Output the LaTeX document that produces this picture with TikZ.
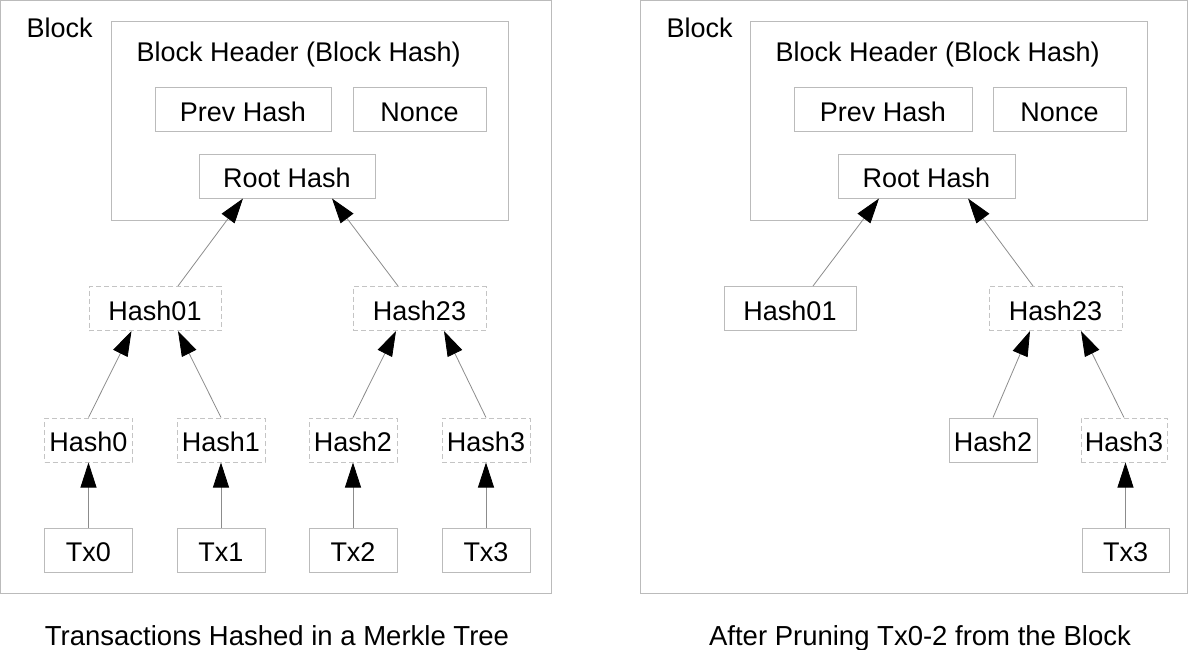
\documentclass[tikz,border=0pt]{standalone}
\usepackage{fontspec}
\setmainfont{Liberation Sans}
\usetikzlibrary{arrows.meta}
\definecolor{framegray}{HTML}{BBBBBB}
\definecolor{dashgray}{HTML}{C4C4C4}
\definecolor{linegray}{HTML}{8C8C8C}

\begin{document}
\begin{tikzpicture}[
    x=1pt, y=-1pt,
    every node/.style={font=\fontsize{27}{32}\selectfont},
    hashbox/.style={rectangle, draw=framegray, line width=1pt, inner sep=0pt, minimum height=44pt, text height=23pt, text depth=0pt},
    ghostbox/.style={hashbox, draw=dashgray, dash pattern=on 5pt off 3pt}, % pruned-able
    blockframe/.style={draw=framegray, line width=1pt},
    captiontext/.style={anchor=base, font=\fontsize{27.5}{32}\selectfont},
    uparrow/.style={draw=linegray, line width=0.8pt, -{Triangle[length=25pt, width=16pt, color=black]}}
]
\useasboundingbox (0,0) rectangle (1188,650);

% left block: full merkle tree
\draw[blockframe] (0.5,0.5) rectangle (551.5,593.5);
\node[anchor=base west] (ablock) at (23,38) {Block};
\draw[blockframe] (111,22) rectangle (508,220);
\node[anchor=base west] (ahead) at (133,62) {Block Header (Block Hash)};
\node[hashbox, minimum width=176pt] (aprev) at (243,110) {Prev Hash};
\node[hashbox, minimum width=133pt] (anonce) at (419.5,110) {Nonce};
\node[hashbox, minimum width=176pt] (aroot) at (287,176) {Root Hash};
\node[ghostbox, minimum width=132pt] (ah01) at (155,308.5) {Hash01};
\node[ghostbox, minimum width=133pt] (ah23) at (419.5,308.5) {Hash23};
\foreach \i/\x in {0/88.5, 1/221, 2/353, 3/486} {
  \node[ghostbox, minimum width=88pt] (ah\i) at (\x,440) {Hash\i};
  \node[hashbox, minimum width=88pt] (atx\i) at (\x,550) {Tx\i};
  \draw[uparrow] (atx\i) -- (ah\i);
}
\draw[uparrow] (ah0.north) -- ([xshift=-23.5pt]ah01.south);
\draw[uparrow] (ah1.north) -- ([xshift=23pt]ah01.south);
\draw[uparrow] (ah2.north) -- ([xshift=-23.5pt]ah23.south);
\draw[uparrow] (ah3.north) -- ([xshift=24.5pt]ah23.south);
\draw[uparrow] ([xshift=23pt]ah01.north) -- ([xshift=-44pt]aroot.south);
\draw[uparrow] ([xshift=-21.5pt]ah23.north) -- ([xshift=45pt]aroot.south);
\node[captiontext] (acap) at (277,645) {Transactions Hashed in a Merkle Tree};

% right block: after pruning
\draw[blockframe] (640.5,0.5) rectangle (1187.5,593.5);
\node[anchor=base west] (bblock) at (663,38) {Block};
\draw[blockframe] (750,22) rectangle (1147,220);
\node[anchor=base west] (bhead) at (772,62) {Block Header (Block Hash)};
\node[hashbox, minimum width=178pt] (bprev) at (883,110) {Prev Hash};
\node[hashbox, minimum width=133pt] (bnonce) at (1059.5,110) {Nonce};
\node[hashbox, minimum width=177pt] (broot) at (926.5,176) {Root Hash};
\node[hashbox, minimum width=132pt] (bh01) at (790,308.5) {Hash01};
\node[ghostbox, minimum width=133pt] (bh23) at (1055.5,308.5) {Hash23};
\node[hashbox, minimum width=88pt] (bh2) at (993,440) {Hash2};
\node[ghostbox, minimum width=86pt] (bh3) at (1124,440) {Hash3};
\node[hashbox, minimum width=87pt] (btx3) at (1125.5,550) {Tx3};
\draw[uparrow] (btx3) -- (btx3 |- bh3.south);
\draw[uparrow] (bh2.north) -- ([xshift=-25.5pt]bh23.south);
\draw[uparrow] (bh3.north) -- ([xshift=25.5pt]bh23.south);
\draw[uparrow] ([xshift=23pt]bh01.north) -- ([xshift=-47.5pt]broot.south);
\draw[uparrow] ([xshift=-22.5pt]bh23.north) -- ([xshift=41.5pt]broot.south);
\node[captiontext] (bcap) at (920,645) {After Pruning Tx0-2 from the Block};
\end{tikzpicture}
\end{document}
